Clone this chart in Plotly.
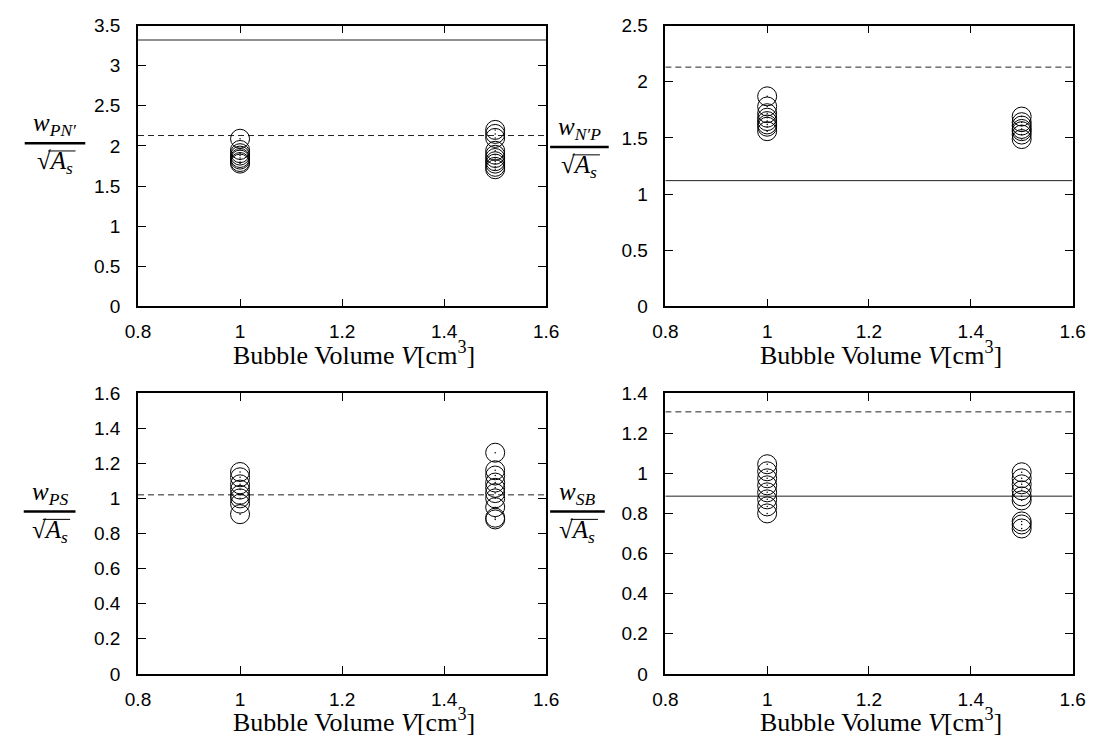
import plotly.graph_objects as go
from plotly.subplots import make_subplots

W, H = 1110, 753

# ---------------- data ----------------
volumes = [1.0, 1.5]

pn_v1 = [2.09, 1.95, 1.91, 1.88, 1.85, 1.83, 1.80, 1.78]
pn_v15 = [2.20, 2.15, 2.10, 1.94, 1.89, 1.85, 1.81, 1.78, 1.74, 1.71]
np_v1 = [1.87, 1.78, 1.72, 1.68, 1.65, 1.62, 1.60, 1.56]
np_v15 = [1.69, 1.64, 1.61, 1.58, 1.56, 1.53, 1.49]
ps_v1 = [1.15, 1.12, 1.08, 1.05, 1.02, 1.00, 0.97, 0.91]
ps_v15 = [1.26, 1.16, 1.13, 1.09, 1.06, 1.03, 1.00, 0.95, 0.89, 0.88]
sb_v1 = [1.045, 1.01, 0.975, 0.94, 0.905, 0.87, 0.835, 0.80]
sb_v15 = [1.005, 0.975, 0.945, 0.915, 0.885, 0.865, 0.76, 0.745, 0.725]

pn_solid, pn_dashed = 3.32, 2.13
np_solid, np_dashed = 1.12, 2.13
ps_solid, ps_dashed = None, 1.02
sb_solid, sb_dashed = 0.886, 1.306

x_range = [0.8, 1.6]
y_ranges = [[0, 3.5], [0, 2.5], [0, 1.6], [0, 1.4]]
y_dticks = [0.5, 0.5, 0.2, 0.2]
x_label = "Bubble Volume <i>V</i>[cm<sup>3</sup>]"

panels = [
    (pn_v1, pn_v15, pn_solid, pn_dashed, "PN′"),
    (np_v1, np_v15, np_solid, np_dashed, "N′P"),
    (ps_v1, ps_v15, ps_solid, ps_dashed, "PS"),
    (sb_v1, sb_v15, sb_solid, sb_dashed, "SB"),
]

# ---------------- layout geometry (pixels) ----------------
col_x = [(128, 546), (668, 1085)]
row_y = [(16, 305), (394, 683)]


def px(x):
    return x / W


def py(y):
    return 1 - y / H


fig = make_subplots(rows=2, cols=2)

for i, (v1, v15, solid, dashed, sub) in enumerate(panels):
    r, c = divmod(i, 2)
    row, col = r + 1, c + 1
    if solid is not None:
        fig.add_trace(go.Scatter(x=x_range, y=[solid, solid], mode="lines",
                                 line=dict(color="#222222", width=1),
                                 showlegend=False, hoverinfo="skip"), row=row, col=col)
    if dashed is not None:
        fig.add_trace(go.Scatter(x=x_range, y=[dashed, dashed], mode="lines",
                                 line=dict(color="#222222", width=1, dash="6px,4px"),
                                 showlegend=False, hoverinfo="skip"), row=row, col=col)
    xs = [volumes[0]] * len(v1) + [volumes[1]] * len(v15)
    ys = list(v1) + list(v15)
    fig.add_trace(go.Scatter(x=xs, y=ys, mode="markers",
                             marker=dict(symbol="circle-open", size=19,
                                         color="black", line=dict(color="black", width=1)),
                             showlegend=False), row=row, col=col)
    fig.add_trace(go.Scatter(x=xs, y=ys, mode="markers",
                             marker=dict(symbol="circle", size=1.5, color="black"),
                             showlegend=False, hoverinfo="skip"), row=row, col=col)

axis_common = dict(showline=True, linecolor="black", linewidth=1.5, mirror="ticks",
                   ticks="inside", ticklen=8, tickwidth=1.2, tickcolor="black",
                   showgrid=False, zeroline=False,
                   tickfont=dict(family="Liberation Sans, Arial, sans-serif", size=19, color="black"))

for i in range(4):
    r, c = divmod(i, 2)
    xa = "xaxis" if i == 0 else f"xaxis{i+1}"
    ya = "yaxis" if i == 0 else f"yaxis{i+1}"
    x0, x1 = col_x[c]
    y0, y1 = row_y[r]
    fig.layout[xa].update(domain=[px(x0), px(x1)], range=x_range, tick0=0.8, dtick=0.2,
                          ticklabelstandoff=7, **axis_common)
    fig.layout[ya].update(domain=[py(y1), py(y0)], range=y_ranges[i], tick0=0,
                          dtick=y_dticks[i], ticklabelstandoff=12, **axis_common)

serif = "Liberation Serif, Times New Roman, serif"
annotations = []
shapes = []

# x axis labels
for r in range(2):
    for c in range(2):
        x0, x1 = col_x[c]
        cy = row_y[r][1] + 48
        annotations.append(dict(
            x=px((x0 + x1) / 2 + 12), y=py(cy), xref="paper", yref="paper",
            text=x_label, showarrow=False,
            xanchor="center", yanchor="middle",
            font=dict(family=serif, size=26, color="black")))

# y axis fraction labels
frac_geom = [(12, 74, 137), (550, 610, 141), (11, 64, 516), (550, 606, 516)]
for i, (bx0, bx1, by) in enumerate(frac_geom):
    sub = panels[i][4]
    cx = (bx0 + bx1) / 2
    annotations.append(dict(
        x=px(cx), y=py(by - 1), xref="paper", yref="paper",
        text=f"<i>w</i><sub><i>{sub}</i></sub>", showarrow=False,
        xanchor="center", yanchor="bottom",
        font=dict(family=serif, size=25, color="black")))
    annotations.append(dict(
        x=px(cx), y=py(by + 2), xref="paper", yref="paper",
        text="√<i>A</i><sub><i>s</i></sub>", showarrow=False,
        xanchor="center", yanchor="top",
        font=dict(family=serif, size=25, color="black")))
    shapes.append(dict(type="line", xref="paper", yref="paper",
                       x0=px(bx0), x1=px(bx1), y0=py(by), y1=py(by),
                       line=dict(color="black", width=2.5)))
    # vinculum of the square root
    shapes.append(dict(type="line", xref="paper", yref="paper",
                       x0=px(cx - 7), x1=px(cx + 21), y0=py(by + 8), y1=py(by + 8),
                       line=dict(color="black", width=1)))

fig.update_layout(width=W, height=H, margin=dict(l=0, r=0, t=0, b=0),
                  paper_bgcolor="white", plot_bgcolor="white",
                  annotations=annotations, shapes=shapes, showlegend=False)

fig.write_html("out.html", config={"displayModeBar": False},
               post_script="document.body.style.margin='0px';")
